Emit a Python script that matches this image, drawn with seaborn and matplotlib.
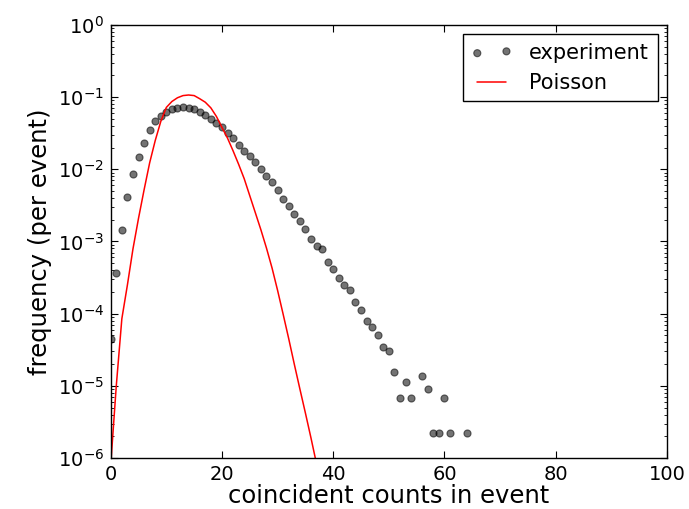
import numpy as np
import pandas as pd
import seaborn as sns
import matplotlib
matplotlib.use('Agg')
import matplotlib.pyplot as plt
from matplotlib.ticker import FixedLocator, LogLocator, NullFormatter

exp_counts = [0, 1, 2, 3, 4, 5, 6, 7, 8, 9, 10, 11, 12, 13, 14, 15, 16, 17, 18, 19,
              20, 21, 22, 23, 24, 25, 26, 27, 28, 29, 30, 31, 32, 33, 34, 35, 36, 37, 38, 39,
              40, 41, 42, 43, 44, 45, 46, 47, 48, 49, 50, 51, 52, 53, 54, 56, 57, 58, 59, 60,
              61, 64]
exp_freq = [4.4e-5, 3.7e-4, 1.45e-3, 4.1e-3, 8.5e-3, 1.5e-2, 2.35e-2, 3.45e-2, 4.6e-2, 5.4e-2,
            6.2e-2, 6.8e-2, 7.1e-2, 7.2e-2, 7.1e-2, 6.8e-2, 6.2e-2, 5.6e-2, 5.0e-2, 4.4e-2,
            3.8e-2, 3.2e-2, 2.7e-2, 2.2e-2, 1.8e-2, 1.55e-2, 1.26e-2, 1.02e-2, 8.1e-3, 6.6e-3,
            5.1e-3, 3.9e-3, 3.1e-3, 2.4e-3, 1.9e-3, 1.5e-3, 1.07e-3, 8.7e-4, 7.8e-4, 5.2e-4,
            4.1e-4, 3.1e-4, 2.5e-4, 2.1e-4, 1.45e-4, 1.12e-4, 7.9e-5, 6.5e-5, 5.1e-5, 3.4e-5,
            3.0e-5, 1.57e-5, 6.7e-6, 1.12e-5, 6.7e-6, 1.35e-5, 9.0e-6, 2.2e-6, 2.2e-6, 6.7e-6,
            2.2e-6, 2.2e-6]

# Poisson curve
poi_counts = list(range(0, 38))
poi_freq = [8e-7, 1.0e-5, 8.5e-5, 2.5e-4, 7.9e-4, 2.1e-3, 5.2e-3, 1.23e-2, 2.5e-2, 4.6e-2,
            7.2e-2, 8.7e-2, 9.8e-2, 1.05e-1, 1.07e-1, 1.05e-1, 9.5e-2, 8.5e-2, 7.1e-2, 5.4e-2,
            3.8e-2, 2.7e-2, 1.8e-2, 1.17e-2, 7.4e-3, 4.3e-3, 2.5e-3, 1.45e-3, 8.1e-4, 4.3e-4,
            2.1e-4, 9.8e-5, 4.5e-5, 2.0e-5, 9.1e-6, 4.2e-6, 1.9e-6, 8.3e-7]

exp_df = pd.DataFrame({'counts': exp_counts, 'freq': exp_freq})
poi_df = pd.DataFrame({'counts': poi_counts, 'freq': poi_freq})

sns.set_style('ticks', {'xtick.direction': 'in', 'ytick.direction': 'in',
                        'axes.edgecolor': 'black', 'text.color': 'black',
                        'axes.labelcolor': 'black', 'xtick.color': 'black',
                        'ytick.color': 'black'})
plt.rcParams['font.family'] = ['DejaVu Sans']
plt.rcParams['xtick.top'] = True
plt.rcParams['ytick.right'] = True

fig = plt.figure(figsize=(6.89, 5.09), dpi=100)
ax = fig.add_axes([0.1607, 0.1002, 0.968 - 0.1607, 0.951 - 0.1002])

sns.scatterplot(data=exp_df, x='counts', y='freq', ax=ax, color='k', alpha=0.55,
                s=26, edgecolor='k', linewidth=0.8, label='experiment')
sns.lineplot(data=poi_df, x='counts', y='freq', ax=ax, color='red', linewidth=1.1,
             label='Poisson')

ax.set_yscale('log')
ax.set_xlim(0, 100)
ax.set_ylim(1e-6, 1)
ax.xaxis.set_major_locator(FixedLocator([0, 20, 40, 60, 80, 100]))
ax.yaxis.set_major_locator(LogLocator(base=10, numticks=10))
ax.yaxis.set_minor_locator(LogLocator(base=10, subs=np.arange(2, 10), numticks=20))
ax.yaxis.set_minor_formatter(NullFormatter())

ax.tick_params(which='major', length=5, width=0.8, labelsize=14, color='k', pad=5)
ax.tick_params(which='minor', length=2.5, width=0.6, color='k')
for sp in ax.spines.values():
    sp.set_color('k')
    sp.set_linewidth(1.0)

ax.set_xlabel('coincident counts in event', fontsize=17.5, labelpad=0)
ax.set_ylabel('frequency (per event)', fontsize=17.5, labelpad=4)

leg = ax.legend(loc='upper right', fontsize=15, scatterpoints=2, numpoints=2,
                fancybox=False, framealpha=1, edgecolor='k', borderaxespad=0.45)
leg.get_frame().set_linewidth(1.0)

fig.savefig('out.png', dpi=100)
